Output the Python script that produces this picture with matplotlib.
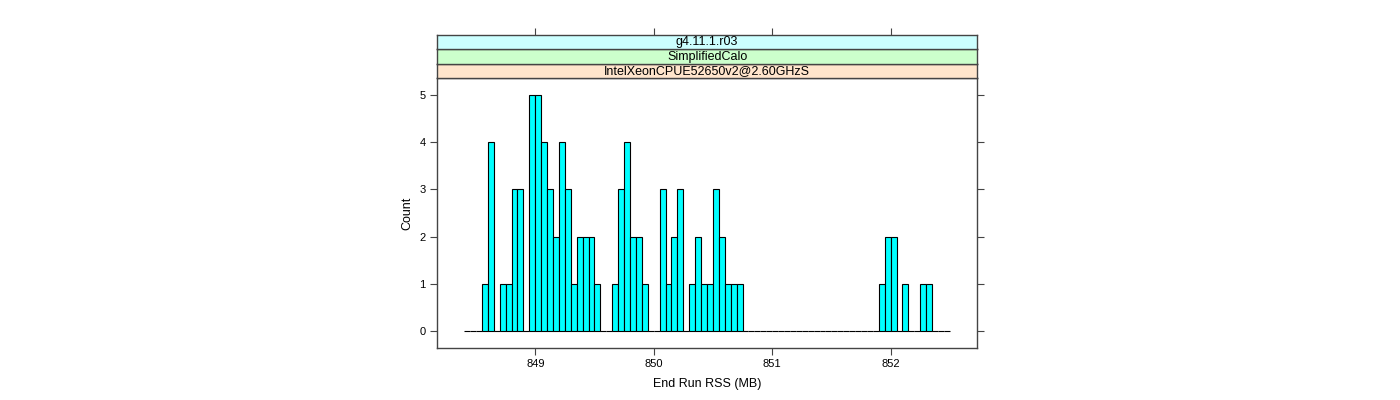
import numpy as np
import matplotlib
matplotlib.use('Agg')
import matplotlib.pyplot as plt

# histogram bins (End Run RSS, MB)
binStart = 848.40
binWidth = 0.05
counts = [0, 0, 0,
          1, 4, 0, 1, 1, 3, 3, 0, 5, 5, 4, 3, 2, 4, 3, 1, 2, 2, 2, 1,
          0, 0, 1, 3, 4, 2, 2, 1, 0, 0, 3, 1, 2, 3, 0, 1, 2, 1, 1, 3, 2, 1, 1, 1,
          0, 0, 0, 0, 0, 0, 0, 0, 0, 0, 0, 0, 0, 0, 0, 0, 0, 0, 0, 0, 0, 0, 0,
          1, 2, 2, 0, 1, 0, 0, 1, 1,
          0, 0, 0]

stripLabels = ['IntelXeonCPUE52650v2@2.60GHzS', 'SimplifiedCalo', 'g4.11.1.r03']
stripColors = ['#ffe5cc', '#ccffcc', '#ccffff']
xTicks = [849, 850, 851, 852]
yTicks = [0, 1, 2, 3, 4, 5]
xLimits = (848.173, 852.729)
yLimits = (-0.35, 5.35)

plt.rcParams['font.family'] = ['Liberation Sans', 'DejaVu Sans']
frameCol = '#444444'

fig = plt.figure(figsize=(14, 4), dpi=100)
W, H = 1400.0, 400.0
left, right = 437.3 / W, 977 / W
bottom, top = 1 - 347.5 / H, 1 - 78.3 / H
stripH = 14.5 / H

edges = binStart + binWidth * np.arange(len(counts))

ax = fig.add_axes([left, bottom, right - left, top - bottom])
ax.bar(edges, counts, width=binWidth, align='edge', color='#00ffff',
       edgecolor='black', linewidth=0.8)
ax.set_xlim(*xLimits)
ax.set_ylim(*yLimits)
ax.set_xticks(xTicks)
ax.set_yticks(yTicks)
ax.tick_params(direction='out', length=5, color=frameCol, labelsize=8,
               left=True, right=True, bottom=True, top=False)
for s in ax.spines.values():
    s.set_color(frameCol)
    s.set_linewidth(1)
ax.set_xlabel('End Run RSS (MB)', fontsize=9, labelpad=6)
ax.set_ylabel('Count', fontsize=9, labelpad=4)

# strips stacked above the panel
for i, (lab, col) in enumerate(zip(stripLabels, stripColors)):
    sax = fig.add_axes([left, top + i * stripH, right - left, stripH])
    sax.set_facecolor(col)
    sax.set_xlim(*xLimits)
    sax.set_yticks([])
    for s in sax.spines.values():
        s.set_color(frameCol)
        s.set_linewidth(1)
    sax.text(0.5, 0.5, lab, ha='center', va='center', fontsize=9,
             transform=sax.transAxes)
    if i == len(stripLabels) - 1:
        sax.set_xticks(xTicks)
        sax.tick_params(axis='x', direction='out', length=5, color=frameCol,
                        top=True, bottom=False, labeltop=False, labelbottom=False)
    else:
        sax.set_xticks([])

fig.savefig('out.png', dpi=100)
